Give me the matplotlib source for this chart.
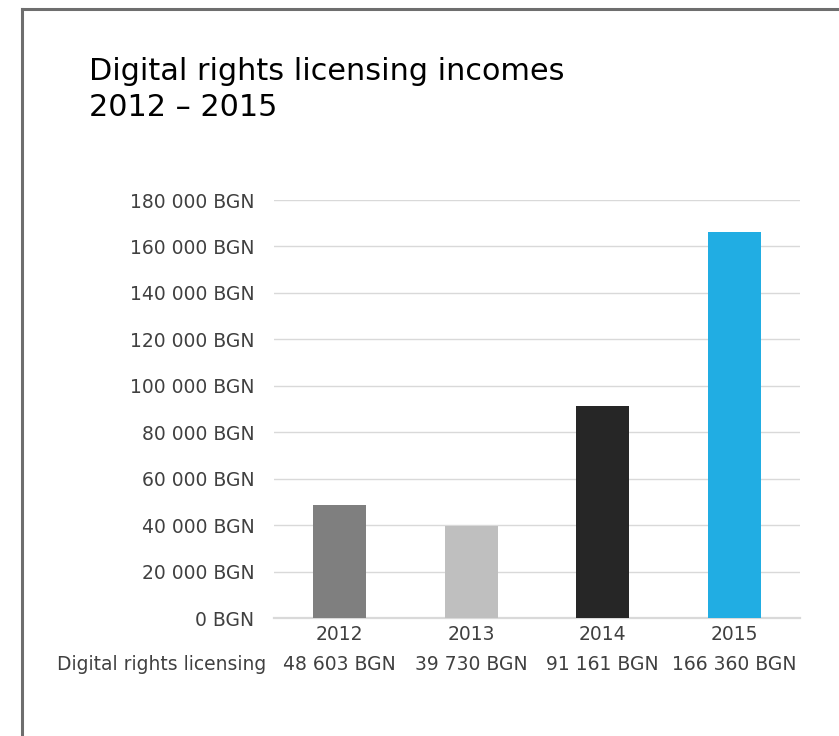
import matplotlib
matplotlib.use('Agg')
import matplotlib.pyplot as plt
from matplotlib.lines import Line2D
from matplotlib.transforms import blended_transform_factory
from matplotlib.ticker import FuncFormatter

# Chart data
YEARS = ["2012", "2013", "2014", "2015"]
INCOMES = [48603, 39730, 91161, 166360]
BAR_COLORS = ["#7f7f7f", "#bfbfbf", "#262626", "#21ade3"]
ROW_LABEL = "Digital rights licensing"
TITLE = "Digital rights licensing incomes\n2012 \u2013 2015"

W, H = 839, 736
TEXT_COLOR = "#404040"
FONT = "DejaVu Sans"
LABEL_SIZE = 13.5


def bgn(value: float) -> str:
    """Formats a number with space as thousands separator and BGN suffix."""
    return f"{int(value):,} BGN".replace(",", " ")


def main() -> None:
    plt.rcParams['font.family'] = [FONT]
    fig = plt.figure(figsize=(W / 100, H / 100), dpi=100)

    # Border of the chart box (only top and left edges are inside the image)
    border = dict(color="#6e6e6e", linewidth=2.2, transform=fig.transFigure)
    fig.add_artist(Line2D([22 / W, 1.0], [1 - 9 / H, 1 - 9 / H], **border))
    fig.add_artist(Line2D([22 / W, 22 / W], [1 - 9 / H, 0.0], **border))

    fig.text(89 / W, 1 - 57 / H, TITLE, fontsize=21.8, color="#000000",
             va="top", ha="left", linespacing=1.3)

    ax = fig.add_axes([274 / W, 1 - 618 / H, (800 - 274) / W, (618 - 200) / H])
    x = range(len(YEARS))
    ax.bar(x, INCOMES, width=0.4, color=BAR_COLORS, zorder=3)

    ax.set_ylim(0, 180000)
    ax.set_xlim(-0.5, len(YEARS) - 0.5)
    ax.set_yticks(range(0, 180001, 20000))
    ax.yaxis.set_major_formatter(FuncFormatter(lambda v, _: bgn(v)))
    ax.grid(axis="y", color="#d9d9d9", linewidth=1.0, zorder=0)
    ax.tick_params(axis="y", length=0, pad=14, labelsize=LABEL_SIZE, labelcolor=TEXT_COLOR)

    ax.set_xticks(list(x))
    ax.set_xticklabels(YEARS)
    ax.tick_params(axis="x", length=0, pad=5, labelsize=LABEL_SIZE, labelcolor=TEXT_COLOR)

    for side in ["top", "right", "left"]:
        ax.spines[side].set_visible(False)
    ax.spines["bottom"].set_color("#d9d9d9")
    ax.spines["bottom"].set_linewidth(1.6)

    # Data table row under the axis
    row_y = 1 - 665 / H
    trans = blended_transform_factory(ax.transData, fig.transFigure)
    for xi, val in zip(x, INCOMES):
        ax.text(xi, row_y, bgn(val), transform=trans, ha="center", va="center",
                fontsize=LABEL_SIZE, color=TEXT_COLOR, clip_on=False)
    fig.text(266 / W, row_y, ROW_LABEL, ha="right", va="center",
             fontsize=LABEL_SIZE, color=TEXT_COLOR)

    fig.savefig("out.png", dpi=100)
    plt.close(fig)


if __name__ == "__main__":
    main()
